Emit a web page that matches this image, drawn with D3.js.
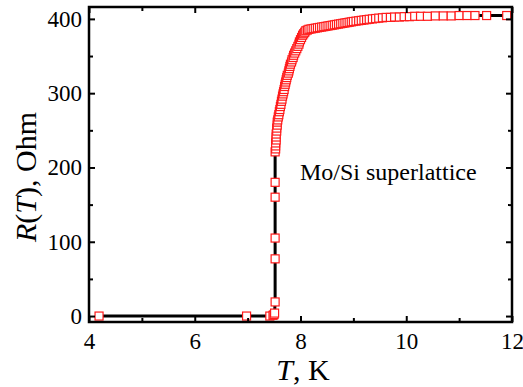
<!DOCTYPE html>
<html>
<head>
<meta charset="utf-8">
<script src="https://cdn.jsdelivr.net/npm/d3@7"></script>
<style>
  body { margin: 0; background: #fff; }
  svg { display: block; }
  svg text { font-family: 'Times New Roman', Times, 'Liberation Serif', 'DejaVu Serif', serif; fill: #000; }
</style>
</head>
<body>
<svg id="chart" width="523" height="387"></svg>
<script>
// R(T) of Mo/Si superlattice
const tempK = [
  4.19, 6.98, 7.42, 7.48, 7.50, 7.51, 7.52, 7.52, 7.52, 7.52,
  7.52, 7.52, 7.53, 7.53, 7.53, 7.54, 7.54, 7.54, 7.55, 7.55,
  7.56, 7.56, 7.57, 7.58, 7.59, 7.60, 7.61, 7.62, 7.63, 7.64,
  7.65, 7.66, 7.67, 7.68, 7.69, 7.70, 7.71, 7.72, 7.73, 7.74,
  7.75, 7.77, 7.78, 7.79, 7.80, 7.81, 7.83, 7.84, 7.86, 7.87,
  7.89, 7.91, 7.93, 7.95, 7.97, 7.98, 8.00, 8.02, 8.04, 8.06,
  8.08, 8.10, 8.13, 8.16, 8.20, 8.24, 8.28, 8.32, 8.36, 8.40,
  8.44, 8.48, 8.52, 8.56, 8.60, 8.64, 8.68, 8.72, 8.76, 8.80,
  8.84, 8.88, 8.92, 8.96, 9.00, 9.05, 9.10, 9.15, 9.20, 9.25,
  9.30, 9.36, 9.42, 9.48, 9.55, 9.62, 9.70, 9.78, 9.87, 9.96,
  10.06, 10.16, 10.27, 10.40, 10.55, 10.70, 10.85, 11.00, 11.15, 11.30,
  11.52, 11.90
];
const resOhm = [
  0, 0, 0, 1, 2, 4, 19, 77, 105, 160,
  180, 221, 225, 229, 233, 237, 241, 245, 249, 253,
  257, 261, 264, 268, 271, 275, 278, 282, 285, 289,
  292, 296, 299, 302, 305, 309, 312, 315, 318, 321,
  324, 327, 330, 333, 336, 339, 342, 345, 348, 351,
  354, 357, 360, 363, 366, 369, 372, 375, 378, 380,
  382, 384, 385, 386, 386.5, 387, 387.5, 388, 388.5, 389,
  389.5, 390, 390.5, 391, 391.5, 392, 392.5, 393, 393.5, 394,
  394.5, 395, 395.5, 396, 396.5, 397, 397.5, 398, 398.5, 399,
  399.5, 400, 400.5, 401, 401.5, 402, 402, 402.5, 402.5, 403,
  403, 403.5, 403.5, 403.5, 404, 404, 404, 404.5, 404.5, 404.5,
  404.5, 404.5
];
const xMajor = [4, 6, 8, 10, 12];
const xMinor = [5, 7, 9, 11];
const yMajor = [0, 100, 200, 300, 400];
const yMinor = [50, 150, 250, 350];

const data = tempK.map((t, i) => ({ t: t, r: resOhm[i] }));

const svg = d3.select('#chart');
const padL = 89, padR = 512, padT = 7, padB = 322;

const x = d3.scaleLinear().domain([4, 12]).range([padL, padR]);
const y = d3.scaleLinear().domain([-8, 416]).range([padB, padT]);

// data line and markers
const line = d3.line().x(d => x(d.t)).y(d => y(d.r));
svg.append('path')
  .datum(data)
  .attr('d', line)
  .attr('fill', 'none')
  .attr('stroke', '#000')
  .attr('stroke-width', 3);

svg.append('g')
  .selectAll('rect')
  .data(data)
  .join('rect')
  .attr('x', d => x(d.t) - 4)
  .attr('y', d => y(d.r) - 4)
  .attr('width', 8)
  .attr('height', 8)
  .attr('fill', '#fff')
  .attr('stroke', '#ff1a1a')
  .attr('stroke-width', 1.2);

// axes, ticks pointing inward
function styleAxis(g) {
  g.select('.domain').remove();
  g.selectAll('line').attr('stroke', '#000').attr('stroke-width', 2);
  g.attr('font-family', null).attr('font-size', null);
  g.selectAll('text').style('font-size', '23px');
}

svg.append('g').attr('transform', `translate(0,${padB})`)
  .call(d3.axisBottom(x).tickValues(xMajor).tickSize(-6).tickPadding(11).tickFormat(d3.format('d')))
  .call(styleAxis);
svg.append('g').attr('transform', `translate(0,${padB})`)
  .call(d3.axisBottom(x).tickValues(xMinor).tickSize(-4).tickFormat(''))
  .call(styleAxis);
svg.append('g').attr('transform', `translate(0,${padT})`)
  .call(d3.axisTop(x).tickValues(xMajor).tickSize(-6).tickFormat(''))
  .call(styleAxis);
svg.append('g').attr('transform', `translate(0,${padT})`)
  .call(d3.axisTop(x).tickValues(xMinor).tickSize(-4).tickFormat(''))
  .call(styleAxis);

svg.append('g').attr('transform', `translate(${padL},0)`)
  .call(d3.axisLeft(y).tickValues(yMajor).tickSize(-6).tickPadding(7))
  .call(styleAxis);
svg.append('g').attr('transform', `translate(${padL},0)`)
  .call(d3.axisLeft(y).tickValues(yMinor).tickSize(-4).tickFormat(''))
  .call(styleAxis);
svg.append('g').attr('transform', `translate(${padR},0)`)
  .call(d3.axisRight(y).tickValues(yMajor).tickSize(-6).tickFormat(''))
  .call(styleAxis);
svg.append('g').attr('transform', `translate(${padR},0)`)
  .call(d3.axisRight(y).tickValues(yMinor).tickSize(-4).tickFormat(''))
  .call(styleAxis);

// frame
svg.append('rect')
  .attr('x', padL).attr('y', padT)
  .attr('width', padR - padL).attr('height', padB - padT)
  .attr('fill', 'none')
  .attr('stroke', '#000')
  .attr('stroke-width', 2.5);

// axis titles
const xt = svg.append('text')
  .attr('x', 303).attr('y', 380)
  .attr('text-anchor', 'middle')
  .style('font-size', '30px');
xt.append('tspan').style('font-style', 'italic').text('T');
xt.append('tspan').text(', K');

const yt = svg.append('text')
  .attr('transform', 'translate(36,177) rotate(-90)')
  .attr('text-anchor', 'middle')
  .style('font-size', '30px');
yt.append('tspan').style('font-style', 'italic').text('R');
yt.append('tspan').text('(');
yt.append('tspan').style('font-style', 'italic').text('T');
yt.append('tspan').text('), Ohm');

svg.append('text')
  .attr('x', 300).attr('y', 180)
  .style('font-size', '24px')
  .text('Mo/Si superlattice');
</script>
</body>
</html>
